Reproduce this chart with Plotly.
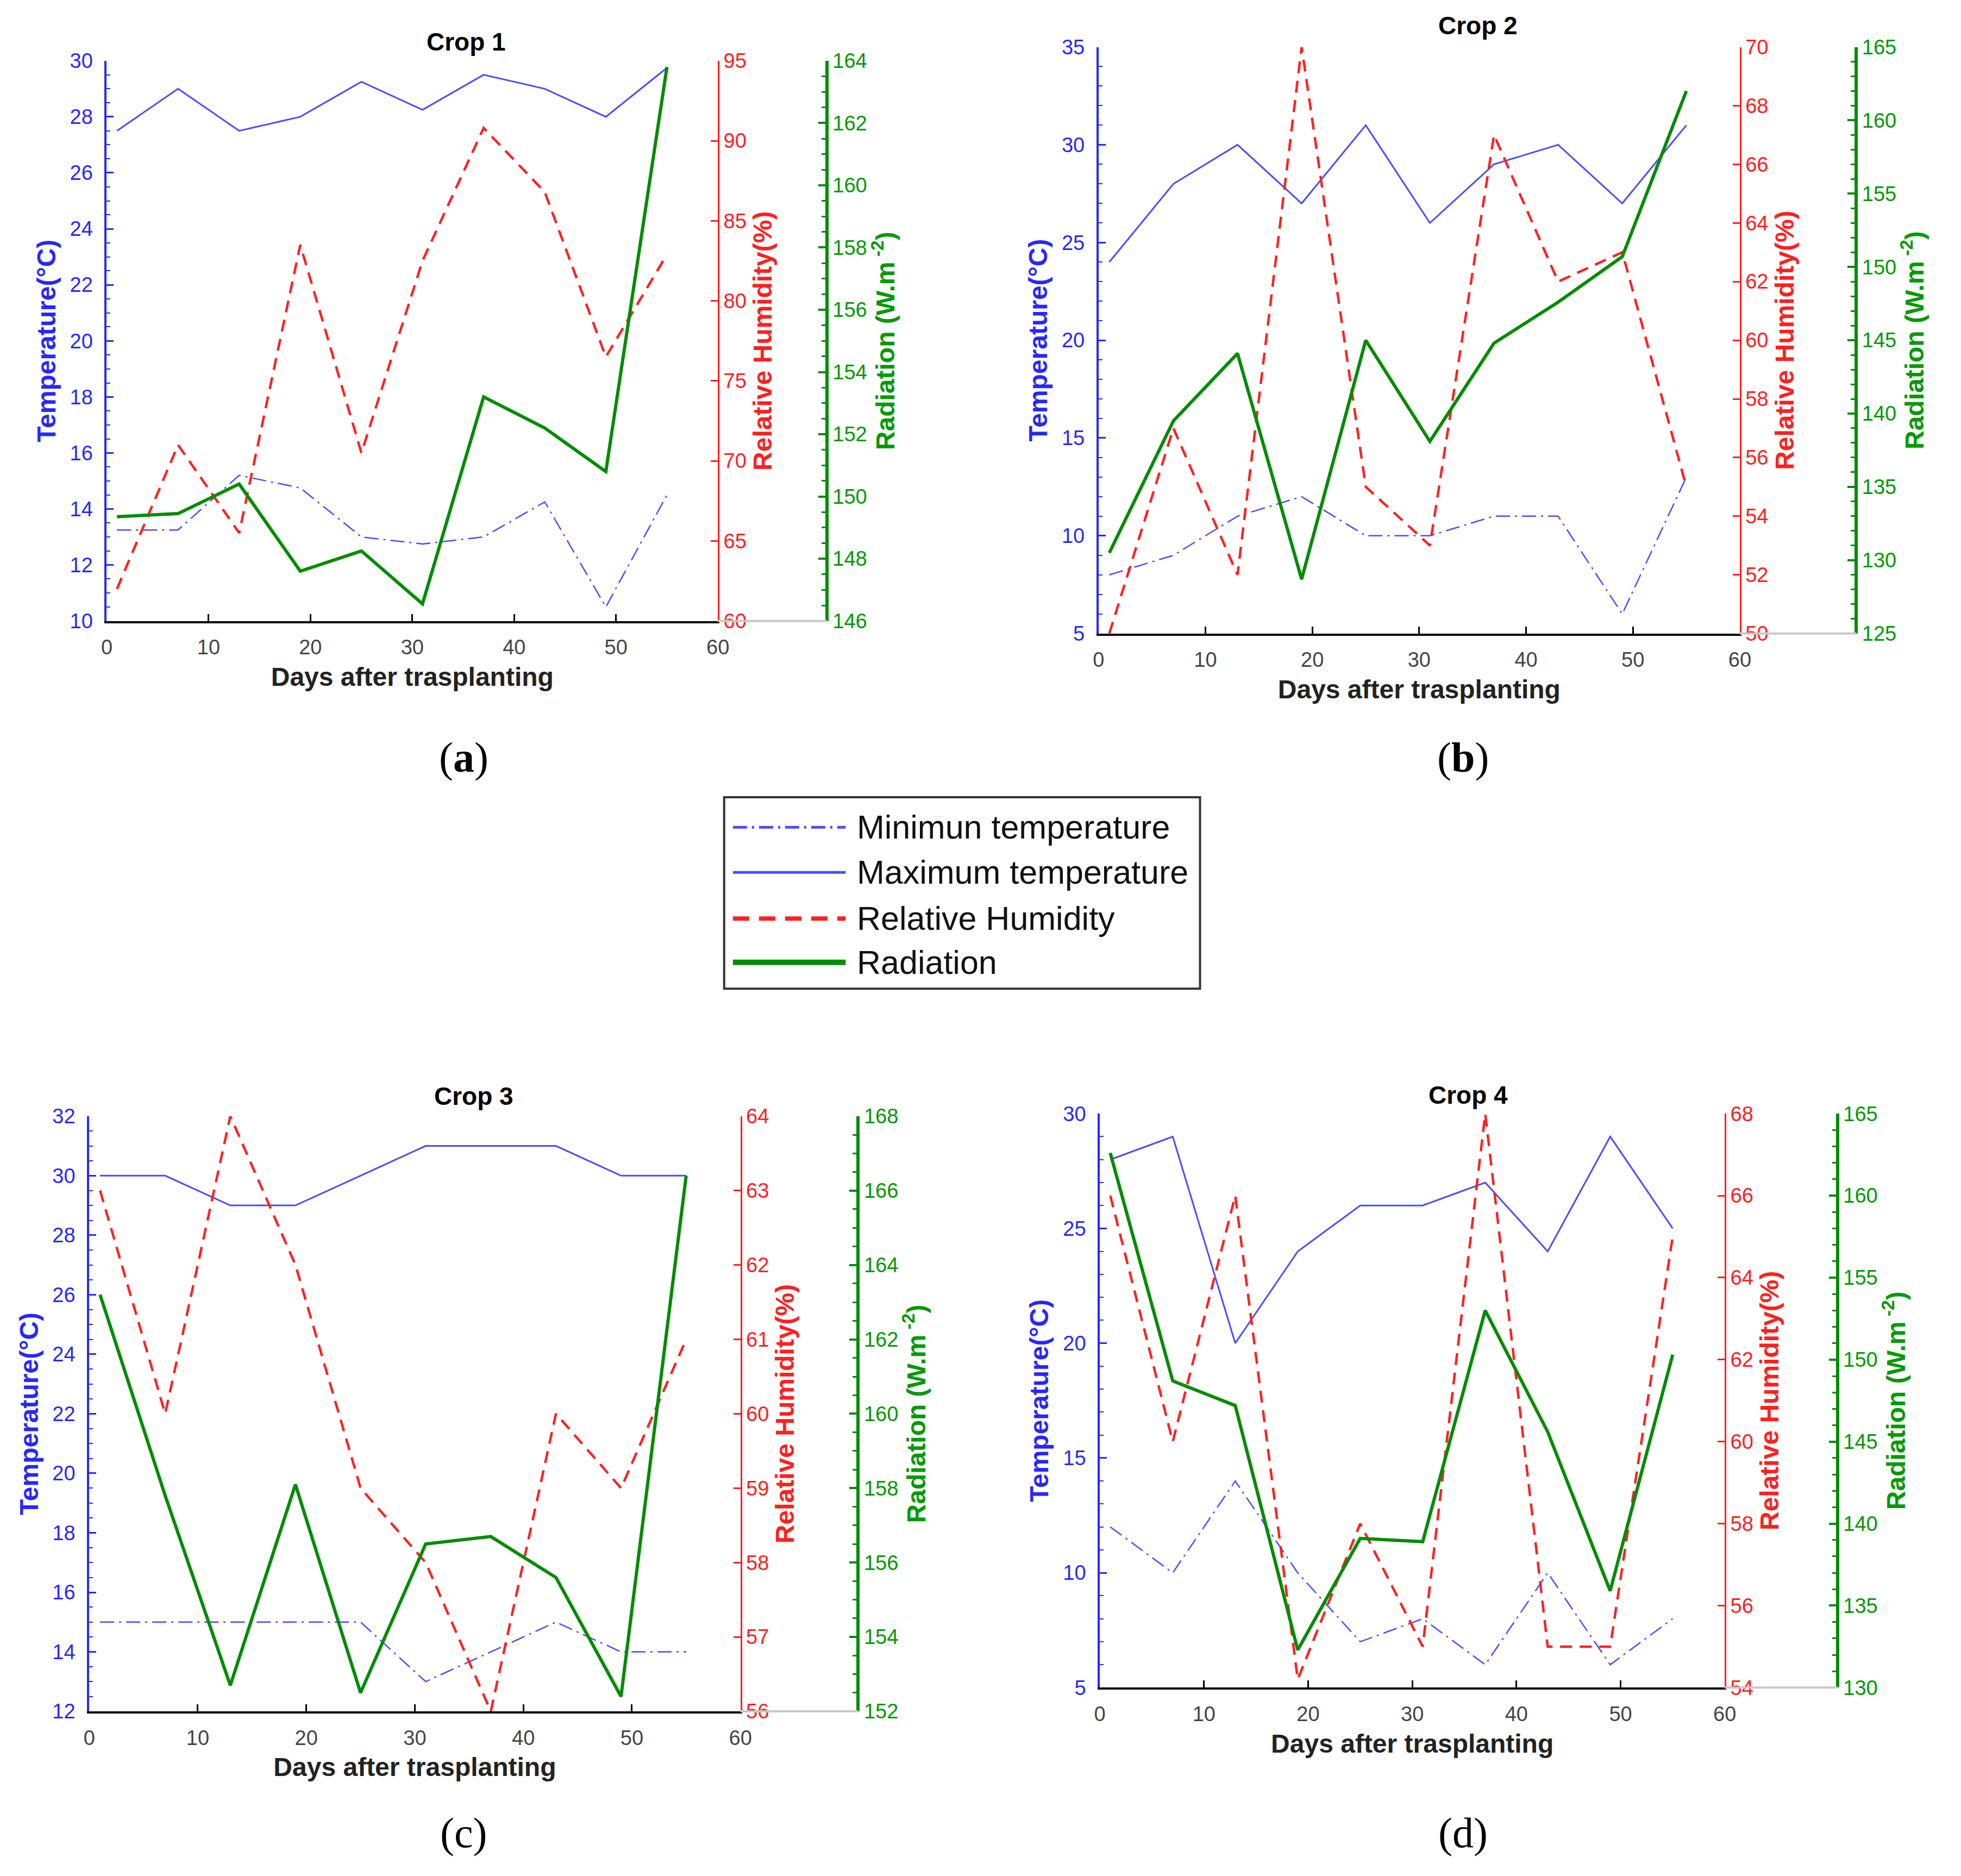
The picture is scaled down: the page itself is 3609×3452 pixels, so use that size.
import plotly.graph_objects as go

# sampling days (days after transplanting)
days = [1, 7, 13, 19, 25, 31, 37, 43, 49, 55]

crop1_tmin = [13.25, 13.25, 15.2, 14.75, 13.0, 12.75, 13.0, 14.25, 10.5, 14.5]
crop1_tmax = [27.5, 29.0, 27.5, 28.0, 29.25, 28.25, 29.5, 29.0, 28.0, 29.75]
crop1_rh = [62.0, 71.0, 65.5, 83.5, 70.5, 82.5, 90.8, 86.8, 76.5, 82.9]
crop1_rad = [149.35, 149.45, 150.4, 147.6, 148.25, 146.55, 153.2, 152.2, 150.8, 163.8]

crop2_tmin = [8, 9, 11, 12, 10, 10, 11, 11, 6, 13]
crop2_tmax = [24, 28, 30, 27, 31, 26, 29, 30, 27, 31]
crop2_rh = [50, 57, 52, 70, 55, 53, 67, 62, 63, 55]
crop2_rad = [130.5, 139.5, 144.1, 128.7, 145.0, 138.1, 144.8, 147.6, 150.7, 162.0]

crop3_tmin = [15, 15, 15, 15, 15, 13, 14, 15, 14, 14]
crop3_tmax = [30, 30, 29, 29, 30, 31, 31, 31, 30, 30]
crop3_rh = [63, 60, 64, 62, 59, 58, 56, 60, 59, 61]
crop3_rad = [163.2, 157.8, 152.7, 158.1, 152.5, 156.5, 156.7, 155.6, 152.4, 166.4]

crop4_tmin = [12, 10, 14, 10, 7, 8, 6, 10, 6, 8]
crop4_tmax = [28, 29, 20, 24, 26, 26, 27, 24, 29, 25]
crop4_rh = [66, 60, 66, 54.2, 58, 55, 68, 55, 55, 65]
crop4_rad = [162.6, 148.7, 147.2, 132.3, 139.1, 138.9, 153.0, 145.6, 135.9, 150.3]

crop_titles = ["Crop 1", "Crop 2", "Crop 3", "Crop 4"]
captions = ["(<b>a</b>)", "(<b>b</b>)", "(c)", "(d)"]
legend_labels = ["Minimun temperature", "Maximum temperature", "Relative Humidity", "Radiation"]

x_ticks = [0, 10, 20, 30, 40, 50, 60]
temp_ticks = [list(range(10, 31, 2)), list(range(5, 36, 5)), list(range(12, 33, 2)), list(range(5, 31, 5))]
rh_ticks = [list(range(60, 96, 5)), list(range(50, 71, 2)), list(range(56, 65)), list(range(54, 69, 2))]
rad_ticks = [list(range(146, 165, 2)), list(range(125, 166, 5)), list(range(152, 169, 2)), list(range(130, 166, 5))]

crops = [
    (crop1_tmin, crop1_tmax, crop1_rh, crop1_rad),
    (crop2_tmin, crop2_tmax, crop2_rh, crop2_rad),
    (crop3_tmin, crop3_tmax, crop3_rh, crop3_rad),
    (crop4_tmin, crop4_tmax, crop4_rh, crop4_rad),
]

W, H = 3609, 3452
# positions below were measured on a 1566 x 1498 view of the reference;
# the rendered page sits slightly inset, hence the offsets
def px(v):
    return (v - 8) / 1552

def py(v):
    return 1 - (v - 12) / 1482

# left axis, RH axis, radiation axis, top, bottom
panels = [(85, 573, 660, 48, 496), (877, 1389, 1482, 37, 506),
          (71, 591, 685, 892, 1368), (878, 1377, 1467, 890, 1349)]
title_pos = [(372, 33), (1180, 20), (378, 876), (1172, 875)]
caption_pos = [(370, 605), (1168, 605), (370, 1465), (1168, 1465)]
temp_minor = [0.5, 1, 0.5, 1]
rad_minor = [0.5, 1, 0.5, 1]

BLUE_LINE = "#4b4bff"
BLUE = "#2727ff"
RED = "#ff2020"
GREEN = "#008c00"
GREEN_TXT = "#009a00"
NUM = "Liberation Sans Narrow, Liberation Sans, Arial, sans-serif"
SANS = "Liberation Sans, Arial, sans-serif"

minT_dash = "26px,9px,4px,9px"
rh_dash = "22px,14px"

fig = go.Figure()
layout = {}
shapes = []
annotations = []

for i, (tmin, tmax, rh, rad) in enumerate(crops):
    xa = f"x{i + 1}"
    yt, yr, yd = f"y{3 * i + 1}", f"y{3 * i + 2}", f"y{3 * i + 3}"
    left, rhx, radx, top, bottom = panels[i]

    fig.add_trace(go.Scatter(x=days, y=tmin, mode="lines", xaxis=xa, yaxis=yt,
                             line=dict(color=BLUE_LINE, width=2.5, dash=minT_dash), showlegend=False))
    fig.add_trace(go.Scatter(x=days, y=tmax, mode="lines", xaxis=xa, yaxis=yt,
                             line=dict(color=BLUE_LINE, width=3), showlegend=False))
    fig.add_trace(go.Scatter(x=days, y=rh, mode="lines", xaxis=xa, yaxis=yr,
                             line=dict(color=RED, width=4.5, dash=rh_dash), showlegend=False))
    fig.add_trace(go.Scatter(x=days, y=rad, mode="lines", xaxis=xa, yaxis=yd,
                             line=dict(color=GREEN, width=6), showlegend=False))

    layout["xaxis" + ("" if i == 0 else str(i + 1))] = dict(
        domain=[px(left), px(rhx)], anchor=yt, range=[0, 60], tickvals=x_ticks,
        showline=True, linecolor="black", linewidth=4, ticks="inside", ticklen=13,
        tickwidth=3, tickcolor="black", showgrid=False, zeroline=False,
        ticklabelstandoff=12,
        tickfont=dict(family=NUM, size=38, color="#444444"),
        title=dict(text="<b>Days after trasplanting</b>", standoff=18,
                   font=dict(family=SANS, size=48, color="#222222")),
    )
    layout["yaxis" + ("" if i == 0 else str(3 * i + 1))] = dict(
        domain=[py(bottom), py(top)], anchor=xa, side="left",
        range=[temp_ticks[i][0], temp_ticks[i][-1]], tickvals=temp_ticks[i],
        showline=True, linecolor=BLUE, linewidth=4, ticks="inside", ticklen=13,
        tickwidth=3, tickcolor=BLUE, showgrid=False, zeroline=False,
        ticklabelstandoff=14,
        minor=dict(ticks="inside", ticklen=7, tickwidth=2, tickcolor=BLUE, dtick=temp_minor[i]),
        tickfont=dict(family=NUM, size=38, color=BLUE),
        title=dict(text="<b>Temperature(°C)</b>", standoff=12, font=dict(family=SANS, size=48, color=BLUE)),
    )
    layout[f"yaxis{3 * i + 2}"] = dict(
        overlaying=yt, anchor=xa, side="right",
        range=[rh_ticks[i][0], rh_ticks[i][-1]], tickvals=rh_ticks[i],
        showline=True, linecolor=RED, linewidth=2.5, ticks="inside", ticklen=13,
        tickwidth=2.5, tickcolor=RED, showgrid=False, zeroline=False,
        tickfont=dict(family=NUM, size=38, color=RED),
        title=dict(text="<b>Relative Humidity(%)</b>", standoff=14, font=dict(family=SANS, size=48, color=RED)),
    )
    layout[f"yaxis{3 * i + 3}"] = dict(
        overlaying=yt, anchor="free", position=px(radx), side="right",
        range=[rad_ticks[i][0], rad_ticks[i][-1]], tickvals=rad_ticks[i],
        showline=True, linecolor=GREEN, linewidth=6, ticks="inside", ticklen=13,
        tickwidth=4, tickcolor=GREEN, showgrid=False, zeroline=False,
        minor=dict(ticks="inside", ticklen=7, tickwidth=3, tickcolor=GREEN, dtick=rad_minor[i]),
        tickfont=dict(family=NUM, size=38, color=GREEN_TXT),
        title=dict(text="<b>Radiation (W.m<sup> -2</sup>)</b>", standoff=16,
                   font=dict(family=SANS, size=48, color=GREEN_TXT)),
    )

    # light grey baseline between the two right-hand axes
    shapes.append(dict(type="line", xref="paper", yref="paper", x0=px(rhx), x1=px(radx),
                       y0=py(bottom), y1=py(bottom), line=dict(color="#c8c8c8", width=4)))

    tx, ty = title_pos[i]
    annotations.append(dict(text=f"<b>{crop_titles[i]}</b>", xref="paper", yref="paper",
                            x=px(tx), y=py(ty), showarrow=False, xanchor="center", yanchor="middle",
                            font=dict(family=SANS, size=46, color="black")))
    cx, cy = caption_pos[i]
    annotations.append(dict(text=captions[i], xref="paper", yref="paper",
                            x=px(cx), y=py(cy), showarrow=False, xanchor="center", yanchor="middle",
                            font=dict(family="Liberation Serif, Times New Roman, serif", size=78, color="black")))

# legend drawn as a box with sample lines
shapes.append(dict(type="rect", xref="paper", yref="paper", x0=px(578), x1=px(958),
                   y0=py(790), y1=py(637), line=dict(color="#333333", width=4), fillcolor="white"))
legend_rows = [661, 697, 734, 769]
legend_styles = [dict(color=BLUE_LINE, width=5, dash=minT_dash),
                 dict(color=BLUE_LINE, width=5),
                 dict(color=RED, width=8, dash="30px,18px"),
                 dict(color=GREEN, width=10)]
for label, row, style in zip(legend_labels, legend_rows, legend_styles):
    shapes.append(dict(type="line", xref="paper", yref="paper", x0=px(585), x1=px(675),
                       y0=py(row), y1=py(row), line=style))
    annotations.append(dict(text=label, xref="paper", yref="paper", x=px(683), y=py(row),
                            showarrow=False, xanchor="left", yanchor="middle",
                            font=dict(family=SANS, size=61, color="#111111")))

fig.update_layout(
    width=W, height=H, autosize=False,
    margin=dict(l=0, r=0, t=0, b=0),
    paper_bgcolor="white", plot_bgcolor="white",
    shapes=shapes, annotations=annotations,
    showlegend=False,
    **layout,
)

fig.write_html("out.html")
